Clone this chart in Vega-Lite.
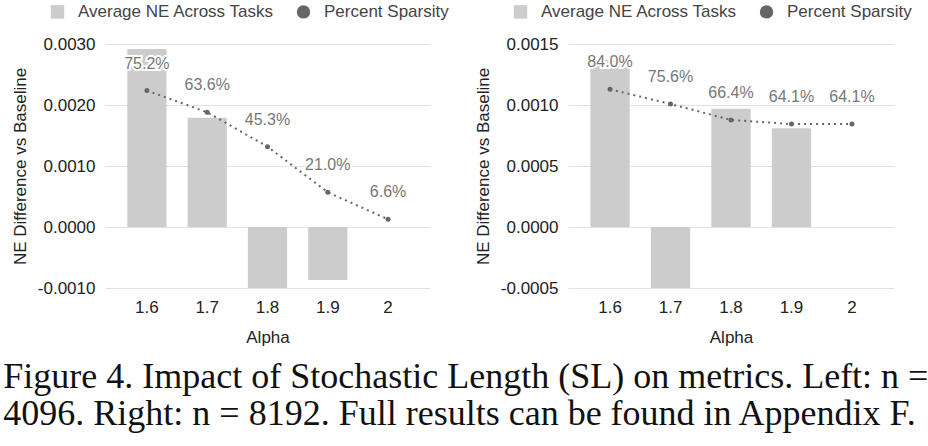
{
  "$schema": "https://vega.github.io/schema/vega-lite/v6.json",
  "padding": {"left": 3, "top": 3, "right": 5, "bottom": 5},
  "background": "white",
  "config": {
    "view": {"stroke": null},
    "font": "Liberation Sans",
    "axis": {
      "labelFont": "Liberation Sans",
      "titleFont": "Liberation Sans",
      "labelColor": "#222222",
      "titleColor": "#222222",
      "labelFontSize": 17,
      "titleFontSize": 17,
      "titleFontWeight": "normal",
      "domain": false,
      "ticks": false,
      "gridColor": "#e2e2e2",
      "gridWidth": 1.2
    },
    "legend": {
      "orient": "none",
      "legendX": -56,
      "legendY": -41,
      "direction": "horizontal",
      "title": null,
      "labelFont": "Liberation Sans",
      "labelFontSize": 17,
      "labelColor": "#444444",
      "labelLimit": 400,
      "symbolSize": 180,
      "labelOffset": 12,
      "columnPadding": 18
    }
  },
  "title": {
    "text": [
      "Figure 4. Impact of Stochastic Length (SL) on metrics. Left: n =",
      "4096. Right: n = 8192. Full results can be found in Appendix F."
    ],
    "orient": "bottom",
    "anchor": "start",
    "font": "Liberation Serif",
    "fontSize": 36,
    "lineHeight": 37,
    "fontWeight": "normal",
    "color": "#111111",
    "offset": 15,
    "dx": -8
  },
  "datasets": {
    "left": [
      {"alpha": "1.6", "ne": 0.00292, "sp": 0.752},
      {"alpha": "1.7", "ne": 0.00179, "sp": 0.636},
      {"alpha": "1.8", "ne": -0.00100, "sp": 0.453},
      {"alpha": "1.9", "ne": -0.00087, "sp": 0.210},
      {"alpha": "2", "ne": null, "sp": 0.066}
    ],
    "right": [
      {"alpha": "1.6", "ne": 0.00137, "sp": 0.840},
      {"alpha": "1.7", "ne": -0.00050, "sp": 0.756},
      {"alpha": "1.8", "ne": 0.00097, "sp": 0.664},
      {"alpha": "1.9", "ne": 0.00081, "sp": 0.641},
      {"alpha": "2", "ne": null, "sp": 0.641}
    ]
  },
  "spacing": 25,
  "resolve": {"scale": {"color": "independent"}, "legend": {"color": "independent"}},
  "hconcat": [
    {
      "width": 325,
      "height": 244,
      "data": {"name": "left"},
      "encoding": {
        "x": {
          "field": "alpha",
          "type": "ordinal",
          "sort": null,
          "scale": {"paddingInner": 0.35, "paddingOuter": 0.37},
          "axis": {"title": "Alpha", "labelAngle": 0, "labelPadding": 11, "titlePadding": 14, "grid": false}
        }
      },
      "layer": [
        {
          "layer": [
            {
              "mark": {"type": "bar", "color": "#cccccc", "clip": true},
              "encoding": {
                "y": {
                  "field": "ne",
                  "type": "quantitative",
                  "scale": {"domain": [-0.001, 0.003], "nice": false, "zero": false},
                  "axis": {
                    "values": [-0.001, 0, 0.001, 0.002, 0.003],
                    "format": ".4f",
                    "labelExpr": "replace(datum.label, '\u2212', '-')",
                    "title": "NE Difference vs Baseline",
                    "labelPadding": 10,
                    "titlePadding": 8
                  }
                },
                "color": {
                  "datum": "Average NE Across Tasks",
                  "scale": {"domain": ["Average NE Across Tasks", "Percent Sparsity"], "range": ["#cccccc", "#666666"]},
                  "legend": {
                    "encode": {
                      "symbols": {
                        "update": {
                          "shape": {"signal": "datum.value === 'Percent Sparsity' ? 'circle' : 'square'"},
                          "fill": {"signal": "datum.value === 'Percent Sparsity' ? '#666666' : '#cccccc'"},
                          "stroke": {"value": "transparent"},
                          "opacity": {"value": 1}
                        }
                      }
                    }
                  }
                }
              }
            },
            {
              "mark": {"type": "rule", "color": "#666666", "strokeWidth": 1.5},
              "encoding": {"y": {"datum": 0}}
            }
          ]
        },
        {
          "encoding": {
            "y": {"field": "sp", "type": "quantitative", "scale": {"domain": [-0.3, 1.0], "nice": false, "zero": false}, "axis": null}
          },
          "layer": [
            {"mark": {"type": "line", "color": "#666666", "strokeWidth": 2, "strokeDash": [2, 4]}},
            {
              "mark": {"type": "point", "filled": true, "size": 25, "opacity": 1},
              "encoding": {"color": {"datum": "Percent Sparsity"}}
            },
            {
              "mark": {"type": "text", "dy": -27, "fontSize": 16, "font": "Liberation Sans", "stroke": "white", "strokeWidth": 4, "color": "white"},
              "encoding": {"text": {"field": "sp", "type": "quantitative", "format": ".1%"}}
            },
            {
              "mark": {"type": "text", "dy": -27, "fontSize": 16, "font": "Liberation Sans", "color": "#777777"},
              "encoding": {"text": {"field": "sp", "type": "quantitative", "format": ".1%"}}
            }
          ]
        }
      ],
      "resolve": {"scale": {"y": "independent"}}
    },
    {
      "width": 326,
      "height": 244,
      "data": {"name": "right"},
      "encoding": {
        "x": {
          "field": "alpha",
          "type": "ordinal",
          "sort": null,
          "scale": {"paddingInner": 0.35, "paddingOuter": 0.37},
          "axis": {"title": "Alpha", "labelAngle": 0, "labelPadding": 11, "titlePadding": 14, "grid": false}
        }
      },
      "layer": [
        {
          "layer": [
            {
              "mark": {"type": "bar", "color": "#cccccc", "clip": true},
              "encoding": {
                "y": {
                  "field": "ne",
                  "type": "quantitative",
                  "scale": {"domain": [-0.0005, 0.0015], "nice": false, "zero": false},
                  "axis": {
                    "values": [-0.0005, 0, 0.0005, 0.001, 0.0015],
                    "format": ".4f",
                    "labelExpr": "replace(datum.label, '\u2212', '-')",
                    "title": "NE Difference vs Baseline",
                    "labelPadding": 10,
                    "titlePadding": 8
                  }
                },
                "color": {
                  "datum": "Average NE Across Tasks",
                  "scale": {"domain": ["Average NE Across Tasks", "Percent Sparsity"], "range": ["#cccccc", "#666666"]},
                  "legend": {
                    "encode": {
                      "symbols": {
                        "update": {
                          "shape": {"signal": "datum.value === 'Percent Sparsity' ? 'circle' : 'square'"},
                          "fill": {"signal": "datum.value === 'Percent Sparsity' ? '#666666' : '#cccccc'"},
                          "stroke": {"value": "transparent"},
                          "opacity": {"value": 1}
                        }
                      }
                    }
                  }
                }
              }
            },
            {
              "mark": {"type": "rule", "color": "#666666", "strokeWidth": 1.5},
              "encoding": {"y": {"datum": 0}}
            }
          ]
        },
        {
          "encoding": {
            "y": {"field": "sp", "type": "quantitative", "scale": {"domain": [-0.3, 1.1], "nice": false, "zero": false}, "axis": null}
          },
          "layer": [
            {"mark": {"type": "line", "color": "#666666", "strokeWidth": 2, "strokeDash": [2, 4]}},
            {
              "mark": {"type": "point", "filled": true, "size": 25, "opacity": 1},
              "encoding": {"color": {"datum": "Percent Sparsity"}}
            },
            {
              "mark": {"type": "text", "dy": -27, "fontSize": 16, "font": "Liberation Sans", "stroke": "white", "strokeWidth": 4, "color": "white"},
              "encoding": {"text": {"field": "sp", "type": "quantitative", "format": ".1%"}}
            },
            {
              "mark": {"type": "text", "dy": -27, "fontSize": 16, "font": "Liberation Sans", "color": "#777777"},
              "encoding": {"text": {"field": "sp", "type": "quantitative", "format": ".1%"}}
            }
          ]
        }
      ],
      "resolve": {"scale": {"y": "independent"}}
    }
  ]
}
